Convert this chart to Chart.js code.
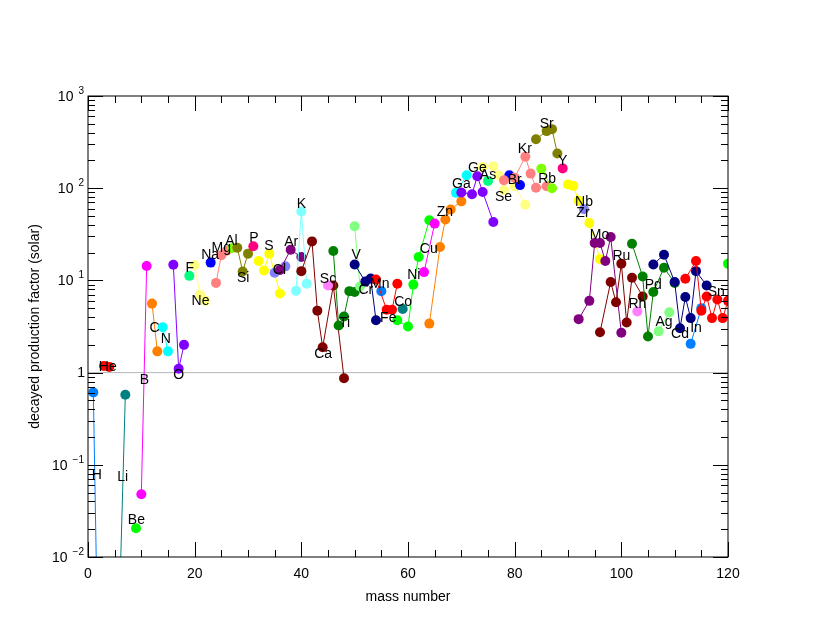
<!DOCTYPE html>
<html>
<head>
<meta charset="utf-8">
<script src="https://cdn.jsdelivr.net/npm/chart.js@4"></script>
<style>
  body { margin: 0; background: #fff; }
  canvas { display: block; }
</style>
</head>
<body>
<canvas id="myChart" width="817" height="632"></canvas>
<script>
// element symbols, stable isotope masses and decayed production factors (solar)
const elements = ['H', 'He', 'Li', 'Be', 'B', 'C', 'N', 'O', 'F', 'Ne', 'Na', 'Mg', 'Al', 'Si', 'P', 'S',
    'Cl', 'Ar', 'K', 'Ca', 'Sc', 'Ti', 'V', 'Cr', 'Mn', 'Fe', 'Co', 'Ni', 'Cu', 'Zn', 'Ga', 'Ge', 'As',
    'Se', 'Br', 'Kr', 'Rb', 'Sr', 'Y', 'Zr', 'Nb', 'Mo', 'Ru', 'Rh', 'Pd', 'Ag', 'Cd', 'In', 'Sn', 'Te'];

const masses = [
    [1, 2], [3, 4], [6, 7], [9], [10, 11], [12, 13], [14, 15], [16, 17, 18], [19], [20, 21, 22],
    [23], [24, 25, 26], [27], [28, 29, 30], [31], [32, 33, 34, 36], [35, 37], [36, 38, 40],
    [39, 40, 41], [40, 42, 43, 44, 46, 48], [45], [46, 47, 48, 49, 50], [50, 51], [50, 52, 53, 54],
    [55], [54, 56, 57, 58], [59], [58, 60, 61, 62, 64], [63, 65], [64, 66, 67, 68, 70], [69, 71],
    [70, 72, 73, 74, 76], [75], [74, 76, 77, 78, 80, 82], [79, 81], [78, 80, 82, 83, 84, 86],
    [85, 87], [84, 86, 87, 88], [89], [90, 91, 92, 94, 96], [93], [92, 94, 95, 96, 97, 98, 100],
    [96, 98, 99, 100, 101, 102, 104], [103], [102, 104, 105, 106, 108, 110], [107, 109],
    [106, 108, 110, 111, 112, 113, 114, 116], [113, 115], [112, 114, 115, 116, 117, 118, 119, 120], [120]
];

const factors = [
    [0.61, 0.0003], [1.18, 1.15], [0.005, 0.575], [0.0205], [0.048, 14.3], [5.6, 1.7], [3.1, 1.7],
    [14.8, 1.1, 2.0], [11.2], [14.6, 7.0, 6.0], [15.6], [9.4, 18.7, 21], [22.3], [22.6, 12.5, 19.5],
    [23.5], [16.2, 12.8, 19.5, 7.2], [12.1, 14.2], [13, 21.5, 17.9], [7.7, 56, 9.2],
    [12.6, 26.5, 4.7, 1.88, 8.8, 0.87], [8.8], [20.8, 3.24, 4.06, 7.65, 7.5], [38.6, 8.6],
    [14.9, 9.7, 10.5, 3.7], [7.65], [10.2, 4.8, 4.8, 9.2], [4.9], [3.7, 3.16, 9.0, 17.9, 45],
    [12.3, 41.3], [3.4, 23, 45.7, 58.7, 72], [89, 138], [90, 86, 135, 91, 43], [120],
    [170, 173, 138, 95, 105, 66], [138, 108], [122, 130, 219, 144, 101, 105], [163, 100],
    [339, 416, 437, 238], [164], [110, 106, 73, 42, 17], [59], [3.8, 6.0, 25.4, 25.4, 16.2, 29.5, 2.7],
    [2.74, 9.6, 5.8, 15.2, 3.5, 10.7, 6.7], [4.6], [25, 11, 2.46, 7.5, 13.7, 9.4], [2.8, 4.5],
    [14.9, 19, 9.6, 3.03, 6.6, 3.9, 12.6, 8.8], [2.05, 5.0], [10.4, 16.2, 4.7, 6.7, 3.9, 6.2, 3.9, 6.0],
    [15.2]
];

// where each element name sits (mass, factor); null = not shown
const labelMass = [1.65, 3.7, 6.5, 9.07, 10.6, 12.5, 14.6, 17, 19.1, 21.1, 22.9, 25, 26.9, 29.1, 31.1,
    33.9, 35.9, 38.1, 40, 44.1, 45, 48.1, 50.3, 52.1, 54.7, 56.3, 59.1, 61.1, 63.9, 66.9, 70, 73, 75,
    77.9, 80, 81.9, 86.1, 86, 89, 92.8, 93, 95.9, 100, 103, 106, 108, 111, 114, 117.8, null];
const labelFactor = [0.077, 1.14, 0.074, 0.025, 0.82, 3.0, 2.3, 0.93, 13.5, 6.0, 18.7, 22.6, 26.5, 10.7,
    28.5, 23.4, 12.9, 26, 68, 1.57, 10.4, 3.4, 18.7, 7.8, 9.2, 3.9, 5.8, 11.3, 21.6, 55, 112, 166, 138,
    80, 122, 263, 124, 496, 199, 54, 71, 31, 18.2, 5.5, 8.8, 3.5, 2.6, 3.0, 7.5, null];

const xTicks = [0, 20, 40, 60, 80, 100, 120];
const yDecades = [-2, -1, 0, 1, 2, 3];

// 24 colour cycle, element by element
const palette = ['#0080ff', '#ff0000', '#008080', '#00ff00', '#ff00ff', '#ff8000', '#00ffff', '#8000ff',
    '#00ff80', '#ffff80', '#0000ff', '#ff8080', '#80ff00', '#808000', '#ff0080', '#ffff00',
    '#8080ff', '#800080', '#80ffff', '#800000', '#ff80ff', '#008000', '#80ff80', '#000080'];
const zOf = el => ['H','He','Li','Be','B','C','N','O','F','Ne','Na','Mg','Al','Si','P','S','Cl','Ar','K',
    'Ca','Sc','Ti','V','Cr','Mn','Fe','Co','Ni','Cu','Zn','Ga','Ge','As','Se','Br','Kr','Rb','Sr','Y',
    'Zr','Nb','Mo','Tc','Ru','Rh','Pd','Ag','Cd','In','Sn','Sb','Te'].indexOf(el) + 1;

const FONT = '"Liberation Sans", Arial, Helvetica, sans-serif';

const datasets = elements.map((el, i) => {
    const col = palette[(zOf(el) - 1) % 24];
    return {
        label: el,
        data: masses[i].map((m, k) => ({ x: m, y: factors[i][k] })),
        showLine: true,
        borderColor: col,
        borderWidth: 1,
        backgroundColor: col,
        pointBackgroundColor: col,
        pointBorderWidth: 0,
        pointRadius: 5,
        order: elements.length - i
    };
});

const framePlugin = {
    id: 'frame',
    beforeDatasetsDraw(chart) {
        const { ctx, chartArea: a, scales: { y } } = chart;
        const py = y.getPixelForValue(1);
        ctx.save();
        ctx.strokeStyle = '#b8b8b8';
        ctx.lineWidth = 1;
        ctx.beginPath();
        ctx.moveTo(a.left, py);
        ctx.lineTo(a.right, py);
        ctx.stroke();
        ctx.restore();
    },
    afterDatasetsDraw(chart) {
        const { ctx, chartArea: a, scales: { x, y } } = chart;
        ctx.save();

        // element names
        ctx.fillStyle = '#000';
        ctx.font = '14px ' + FONT;
        ctx.textAlign = 'center';
        ctx.textBaseline = 'middle';
        elements.forEach((el, i) => {
            if (labelMass[i] == null) return;
            ctx.fillText(el, x.getPixelForValue(labelMass[i]), y.getPixelForValue(labelFactor[i]));
        });

        // box
        ctx.strokeStyle = '#000';
        ctx.lineWidth = 1;
        ctx.strokeRect(a.left, a.top, a.right - a.left, a.bottom - a.top);

        // x ticks, inside, bottom and top
        ctx.beginPath();
        for (let m = 0; m <= 120; m += 5) {
            const px = Math.round(x.getPixelForValue(m)) + 0.5;
            const len = m % 20 === 0 ? 15 : 7;
            ctx.moveTo(px, a.bottom); ctx.lineTo(px, a.bottom - len);
            ctx.moveTo(px, a.top); ctx.lineTo(px, a.top + len);
        }
        // y ticks, inside, left and right
        yDecades.forEach(d => {
            const top = d === 3 ? 1 : 9;
            for (let k = 1; k <= top; k++) {
                const py = Math.round(y.getPixelForValue(k * Math.pow(10, d))) + 0.5;
                const len = k === 1 ? 15 : 7;
                ctx.moveTo(a.left, py); ctx.lineTo(a.left + len, py);
                ctx.moveTo(a.right, py); ctx.lineTo(a.right - len, py);
            }
        });
        ctx.stroke();

        // x tick labels
        ctx.font = '14px ' + FONT;
        ctx.textAlign = 'center';
        ctx.textBaseline = 'middle';
        xTicks.forEach(t => ctx.fillText(String(t), x.getPixelForValue(t), a.bottom + 17));

        // y tick labels as 10^n
        yDecades.forEach(d => {
            const py = y.getPixelForValue(Math.pow(10, d));
            if (d === 0) {
                ctx.font = '14px ' + FONT;
                ctx.textAlign = 'right';
                ctx.fillText('1', a.left - 3, py + 1);
                return;
            }
            ctx.font = '10px ' + FONT;
            ctx.textAlign = 'left';
            const sup = d < 0 ? '\u2212' + (-d) : String(d);
            const supW = ctx.measureText(sup).width;
            const sx = a.left - 4 - supW;
            ctx.fillText(sup, sx, py - 5);
            ctx.font = '14px ' + FONT;
            ctx.textAlign = 'right';
            ctx.fillText('10', sx - 5, py + 1);
        });

        // axis titles
        ctx.font = '14px ' + FONT;
        ctx.textAlign = 'center';
        ctx.fillText('mass number', (a.left + a.right) / 2, a.bottom + 40);
        ctx.translate(35, (a.top + a.bottom) / 2);
        ctx.rotate(-Math.PI / 2);
        ctx.fillText('decayed production factor (solar)', 0, 0);
        ctx.restore();
    }
};

const ctx = document.getElementById('myChart').getContext('2d');
const chart = new Chart(ctx, {
    type: 'scatter',
    data: { datasets },
    options: {
        responsive: false,
        animation: false,
        devicePixelRatio: 1,
        layout: { padding: { left: 88, right: 89, top: 96, bottom: 75 } },
        plugins: { legend: { display: false }, tooltip: { enabled: false } },
        scales: {
            x: { type: 'linear', min: 0, max: 120, display: false },
            y: { type: 'logarithmic', min: 0.01, max: 1000, display: false }
        }
    },
    plugins: [framePlugin]
});
</script>
</body>
</html>
